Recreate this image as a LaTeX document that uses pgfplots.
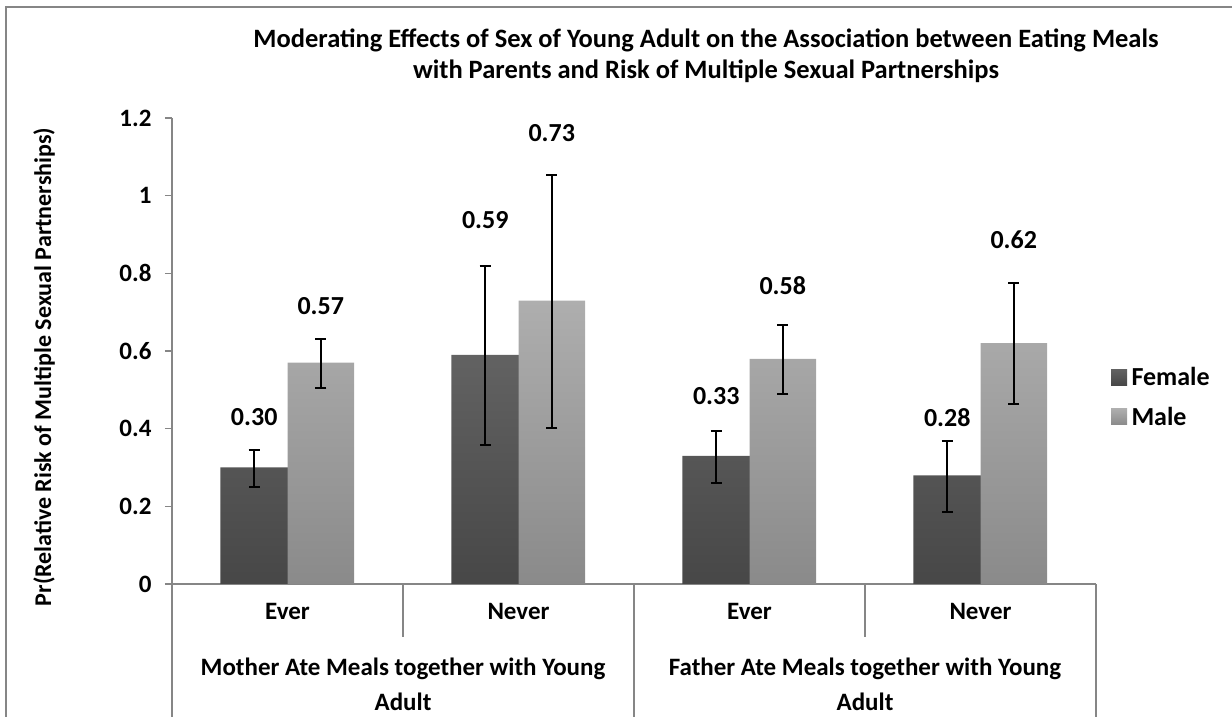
\documentclass[border=0pt]{standalone}
\usepackage{fontspec}
\setmainfont{Carlito}
\usepackage{pgfplots}
\usepackage{pgfplotstable}
\pgfplotsset{compat=1.18}
\definecolor{fTop}{HTML}{626262}
\definecolor{fBot}{HTML}{474747}
\definecolor{mTop}{HTML}{AEAEAE}
\definecolor{mBot}{HTML}{8A8A8A}
\definecolor{axgray}{HTML}{868686}

\pgfplotstableread{
x     y     ep     em
0.356 0.30  0.045  0.050
1.356 0.59  0.229  0.231
2.356 0.33  0.064  0.070
3.356 0.28  0.088  0.094
}\female
\pgfplotstableread{
x     y     ep     em
0.644 0.57  0.062  0.066
1.644 0.73  0.324  0.329
2.644 0.58  0.086  0.091
3.644 0.62  0.154  0.157
}\male
\pgfplotstableread{
x      y      lab
0.356  0.431  0.30
1.356  0.936  0.59
2.356  0.485  0.33
3.356  0.429  0.28
0.644  0.715  0.57
1.644  1.162  0.73
2.644  0.768  0.58
3.644  0.887  0.62
}\labels

\begin{document}
\begin{tikzpicture}[x=1pt,y=1pt]
\useasboundingbox (0,0) rectangle (1232,717);
\draw[axgray, line width=2pt] (6,-5) -- (6,710) -- (1240,710);
\begin{axis}[
  at={(172pt,133pt)}, anchor=south west,
  scale only axis, width=924pt, height=466pt,
  xmin=0, xmax=4, ymin=0, ymax=1.2,
  axis lines=left, axis line style={-, axgray, line width=1.5pt},
  xtick=\empty,
  ytick={0,0.2,0.4,0.6,0.8,1,1.2},
  yticklabels={0,0.2,0.4,0.6,0.8,1,1.2},
  tick align=outside, major tick length=7pt,
  tick style={axgray, line width=1.5pt},
  yticklabel style={font=\fontsize{25}{29}\selectfont\bfseries, xshift=-10pt},
  clip=false,
  legend style={at={(axis description cs:1.0162,0.4657)}, anchor=north west,
    draw=none, fill=none, inner sep=0pt, row sep=20pt,
    font=\fontsize{26}{30}\selectfont\bfseries,
    nodes={inner sep=0pt, anchor=west}},
  legend cell align=left,
  legend image code/.code={\path[#1, draw=none] (0pt,-8pt) rectangle (16pt,8pt);},
  error bars/y dir=both, error bars/y explicit,
  error bars/error mark options={rotate=90, mark size=5.5pt, line width=2pt, black},
  error bars/error bar style={line width=2pt, black},
]
\addplot[ybar, bar width=67.5pt, bar shift=0pt, draw=none, top color=fTop, bottom color=fBot]
  table[x=x, y=y, y error plus=ep, y error minus=em] {\female};
\addlegendentry{\,Female}
\addplot[ybar, bar width=66.5pt, bar shift=0pt, draw=none, top color=mTop, bottom color=mBot]
  table[x=x, y=y, y error plus=ep, y error minus=em] {\male};
\addlegendentry{\,Male}
\addplot[forget plot, only marks, mark=*, mark size=0pt, mark options={draw=none, fill=none},
  nodes near coords, point meta=explicit symbolic,
  nodes near coords style={anchor=center, font=\fontsize{26}{30}\selectfont\bfseries, text=black}]
  table[x=x, y=y, meta=lab] {\labels};
% category separators
\draw[axgray, line width=1.5pt] (axis cs:0,0) -- ++(0,-140pt);
\draw[axgray, line width=1.5pt] (axis cs:1,0) -- ++(0,-53pt);
\draw[axgray, line width=1.5pt] (axis cs:2,0) -- ++(0,-140pt);
\draw[axgray, line width=1.5pt] (axis cs:3,0) -- ++(0,-53pt);
\draw[axgray, line width=1.5pt] (axis cs:4,0) -- ++(0,-140pt);
\end{axis}
% title
\node[anchor=base, font=\fontsize{26.5}{30}\selectfont\bfseries] at (706,669) {Moderating Effects of Sex of Young Adult on the Association between Eating Meals};
\node[anchor=base, font=\fontsize{26.5}{30}\selectfont\bfseries] at (706,638) {with Parents and Risk of Multiple Sexual Partnerships};
% y label
\node[rotate=90, font=\fontsize{24}{28}\selectfont\bfseries] at (44,350) {Pr(Relative Risk of Multiple Sexual Partnerships)};
% category labels
\foreach \cx/\t in {287.5/Ever, 518.5/Never, 749.5/Ever, 980.5/Never}
  \node[anchor=base, font=\fontsize{25}{29}\selectfont\bfseries] at (\cx,97) {\t};
\node[anchor=base, font=\fontsize{25}{29}\selectfont\bfseries] at (403,41) {Mother Ate Meals together with Young};
\node[anchor=base, font=\fontsize{25}{29}\selectfont\bfseries] at (403,6) {Adult};
\node[anchor=base, font=\fontsize{25}{29}\selectfont\bfseries] at (865,41) {Father Ate Meals together with Young};
\node[anchor=base, font=\fontsize{25}{29}\selectfont\bfseries] at (865,6) {Adult};
\end{tikzpicture}
\end{document}
